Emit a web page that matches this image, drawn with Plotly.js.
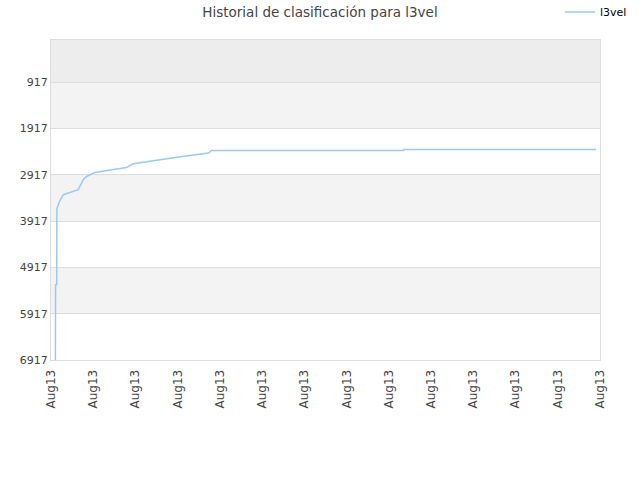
<!DOCTYPE html>
<html>
<head>
<meta charset="utf-8">
<script src="https://cdn.plot.ly/plotly-3.0.1.min.js"></script>
<style>
  body { margin: 0; }
  #chart { width: 640px; height: 480px; }
</style>
</head>
<body>
<div id="chart"></div>
<script>
// ranking history (lower = better)
var fechas = [
  "2013-08-01 05:00", "2013-08-01 05:10", "2013-08-01 06:30", "2013-08-01 06:40",
  "2013-08-01 10:00", "2013-08-01 14:00", "2013-08-02 07:00", "2013-08-02 09:00",
  "2013-08-02 12:40", "2013-08-02 16:00", "2013-08-03 02:00", "2013-08-03 21:00",
  "2013-08-04 14:00", "2013-08-04 21:30", "2013-08-05 18:30", "2013-08-07 01:00",
  "2013-08-08 11:00", "2013-08-08 14:40", "2013-08-17 16:30", "2013-08-17 17:00",
  "2013-08-26 19:30"
];
var posiciones = [
  6917, 5291, 5291, 3651,
  3480, 3349, 3241, 3170,
  3025, 2961, 2868, 2810,
  2760, 2680, 2615, 2535,
  2449, 2393, 2393, 2372,
  2372
];
var yTicks = [917, 1917, 2917, 3917, 4917, 5917, 6917];
var bandas = [[10, 917, '#ededed'], [917, 1917, '#f3f3f3'], [2917, 3917, '#f3f3f3'], [4917, 5917, '#f3f3f3']];

var shapes = [];
bandas.forEach(function(b) {
  shapes.push({
    type: 'rect', xref: 'paper', yref: 'y', x0: 0, x1: 1, y0: b[0], y1: b[1],
    fillcolor: b[2], line: {width: 0}, layer: 'below'
  });
});

var trace = {
  x: fechas,
  y: posiciones,
  type: 'scatter',
  mode: 'lines',
  name: 'l3vel',
  line: {color: '#99c9f5', width: 1.5}
};

var layout = {
  width: 640,
  height: 480,
  margin: {l: 51, r: 40, t: 40, b: 120},
  paper_bgcolor: '#ffffff',
  plot_bgcolor: '#ffffff',
  font: {family: 'DejaVu Sans, Verdana, sans-serif', size: 11, color: '#444'},
  title: {
    text: 'Historial de clasificación para l3vel',
    font: {size: 13.5, color: '#444'},
    x: 0.5, xanchor: 'center', y: 0.975, yanchor: 'middle'
  },
  showlegend: true,
  legend: {
    xref: 'container', yref: 'container', orientation: 'h',
    x: 0.875, xanchor: 'left', y: 0.975, yanchor: 'middle',
    font: {size: 11, color: '#000'}, bgcolor: 'rgba(0,0,0,0)', itemwidth: 30
  },
  xaxis: {
    type: 'date',
    range: ['2013-08-01', '2013-08-27'],
    tick0: '2013-08-01',
    dtick: 2 * 86400000,
    tickformat: '%b%y',
    tickangle: -90,
    showgrid: false,
    showline: true, linecolor: '#dddddd', mirror: true,
    ticks: '', zeroline: false,
    ticklabelstandoff: 4,
    tickfont: {size: 12, color: '#444'}
  },
  yaxis: {
    range: [6917, 10],
    tickvals: yTicks,
    ticktext: yTicks.map(String),
    showgrid: true, gridcolor: '#dddddd',
    showline: true, linecolor: '#dddddd', mirror: true,
    ticks: '', zeroline: false,
    tickfont: {size: 11, color: '#444'}
  },
  shapes: shapes
};

Plotly.newPlot('chart', [trace], layout, {displayModeBar: false, staticPlot: true});
</script>
</body>
</html>
